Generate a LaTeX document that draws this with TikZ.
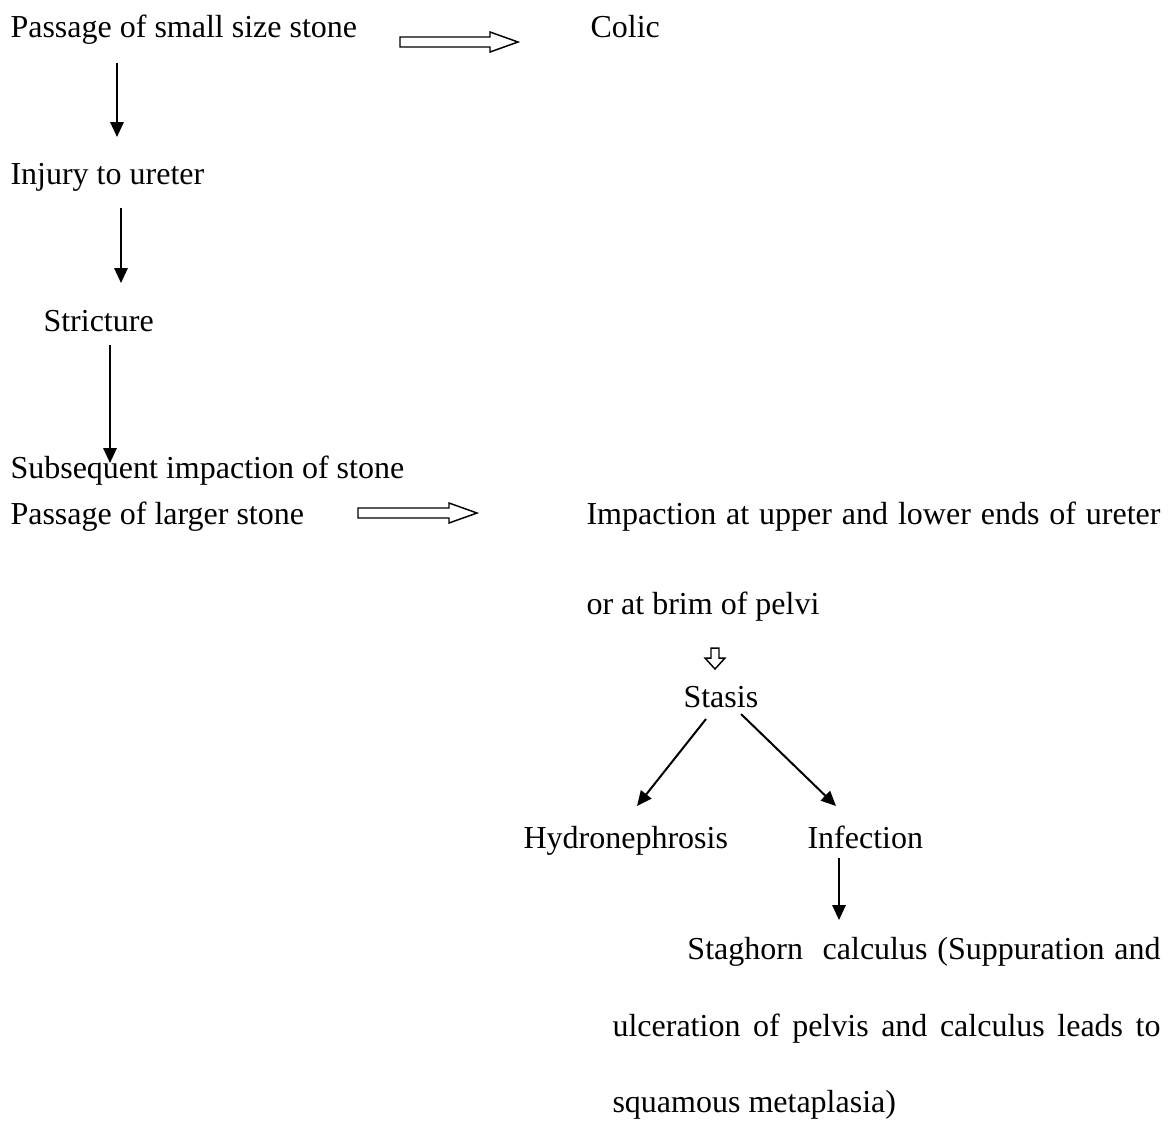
\documentclass[tikz,border=0pt]{standalone}
\usepackage{fontspec}
\setmainfont{Liberation Serif}
\usetikzlibrary{arrows.meta}
\begin{document}
\begin{tikzpicture}[x=0.375pt,y=-0.375pt,
  txt/.style={anchor=base west, inner sep=0pt, font=\fontsize{12}{27.56}\selectfont},
  arr/.style={line width=0.75pt, -{Triangle[length=5.6pt,width=5pt]}},
  hollow/.style={line width=0.55pt, draw=black, fill=white, line join=miter}]
\useasboundingbox[fill=white] (0,0) rectangle (1176,1147);
% texts (multi-line nodes are anchored at the baseline of their last line)
\node[txt] (p1) at (10,37) {Passage of small size stone};
\node[txt] (colic) at (590,37) {Colic};
\node[txt] (inj) at (10,184) {Injury to ureter};
\node[txt] (str) at (43,331) {Stricture};
\node[txt] (sub) at (10,478) {Subsequent impaction of stone};
\node[txt] (p2) at (10,524.5) {Passage of larger stone};
\node[txt, align=left, font=\fontsize{12}{33.75}\selectfont] (imp) at (586,614.5) {\makebox[215.25pt][s]{Impaction at upper and lower ends of ureter}\\or at brim of pelvi};
\node[txt] (stasis) at (683,707) {Stasis};
\node[txt] (hyd) at (523,848.5) {Hydronephrosis};
\node[txt] (inf) at (807,848.5) {Infection};
\node[txt, align=left, font=\fontsize{12}{28.69}\selectfont] (stag) at (612,1112.5) {\hspace*{28.1pt}\makebox[177.4pt][s]{Staghorn\ \ calculus (Suppuration and}\\\makebox[205.5pt][s]{ulceration of pelvis and calculus leads to}\\squamous metaplasia)};
% connector end points
\coordinate (a1s) at (117,63);  \coordinate (a1e) at (117,137);
\coordinate (a2s) at (121,208); \coordinate (a2e) at (121,283);
\coordinate (a3s) at (110,345); \coordinate (a3e) at (110,463);
\coordinate (d1s) at (706,719); \coordinate (d1e) at (637,806);
\coordinate (d2s) at (741,714); \coordinate (d2e) at (836,806);
\coordinate (a4s) at (839,858); \coordinate (a4e) at (839,920);
% solid arrows
\draw[arr] (a1s) -- (a1e);
\draw[arr] (a2s) -- (a2e);
\draw[arr] (a3s) -- (a3e);
\draw[arr] (d1s) -- (d1e);
\draw[arr] (d2s) -- (d2e);
\draw[arr] (a4s) -- (a4e);
% hollow arrows
\draw[hollow] (400,37) -- (490,37) -- (490,32) -- (518,42) -- (490,52) -- (490,47) -- (400,47) -- cycle;
\draw[hollow] (358,508) -- (449,508) -- (449,503) -- (477,513) -- (449,523) -- (449,518) -- (358,518) -- cycle;
\draw[hollow] (711,648) -- (719,648) -- (719,658) -- (725,658) -- (715,669) -- (705,658) -- (711,658) -- cycle;
\end{tikzpicture}
\end{document}
